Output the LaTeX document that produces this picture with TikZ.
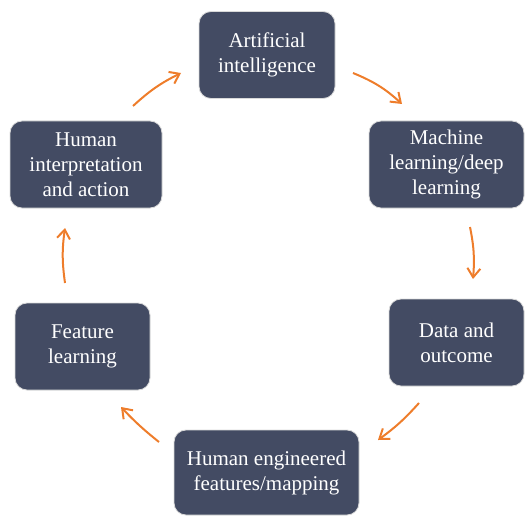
\documentclass[tikz,border=0pt]{standalone}
\usepackage{fontspec}
\setmainfont{Liberation Serif}
\usetikzlibrary{arrows.meta}
\definecolor{boxfill}{HTML}{434B63}
\definecolor{arrowor}{HTML}{EE7D2B}
\tikzset{
  box/.style={draw=white!85!black, line width=0.8pt, fill=boxfill, rounded corners=12pt,
    text=white, align=center, font=\fontsize{21}{25}\selectfont, inner sep=0pt},
  flow/.style={draw=arrowor, line width=2pt, -{Straight Barb[length=9pt,width=13pt,line width=2pt]}}
}
\begin{document}
\begin{tikzpicture}[x=1pt,y=-1pt]
\useasboundingbox (0,0) rectangle (525,516);
\node[box, minimum width=136pt, minimum height=87pt] (ai) at (267,55) {Artificial\\intelligence};
\node[box, minimum width=155pt, minimum height=87pt] (ml) at (446.5,164.5) {Machine\\learning/deep\\learning};
\node[box, minimum width=152pt, minimum height=87pt] (hi) at (86,164.5) {Human\\interpretation\\and action};
\node[box, minimum width=135pt, minimum height=87pt] (da) at (456.5,342.5) {Data and\\outcome};
\node[box, minimum width=185pt, minimum height=85pt] (he) at (266.5,472.5) {Human engineered\\features/mapping};
\node[box, minimum width=135pt, minimum height=87pt] (fl) at (82.5,346.5) {Feature\\learning};
% arrow end points
\coordinate (a1s) at (353,73);  \coordinate (a1e) at (402,104);
\coordinate (a2s) at (470,227); \coordinate (a2e) at (473,279);
\coordinate (a3s) at (419,403); \coordinate (a3e) at (378,440);
\coordinate (a4s) at (159,442); \coordinate (a4e) at (121,407);
\coordinate (a5s) at (65,283);  \coordinate (a5e) at (65,228);
\coordinate (a6s) at (133,106); \coordinate (a6e) at (181,73);
\draw[flow] (a1s) to[bend left=10] (a1e);
\draw[flow] (a2s) to[bend left=8] (a2e);
\draw[flow] (a3s) to[bend left=6] (a3e);
\draw[flow] (a4s) to[bend left=4] (a4e);
\draw[flow] (a5s) to[bend left=8] (a5e);
\draw[flow] (a6s) to[bend left=8] (a6e);
\end{tikzpicture}
\end{document}
